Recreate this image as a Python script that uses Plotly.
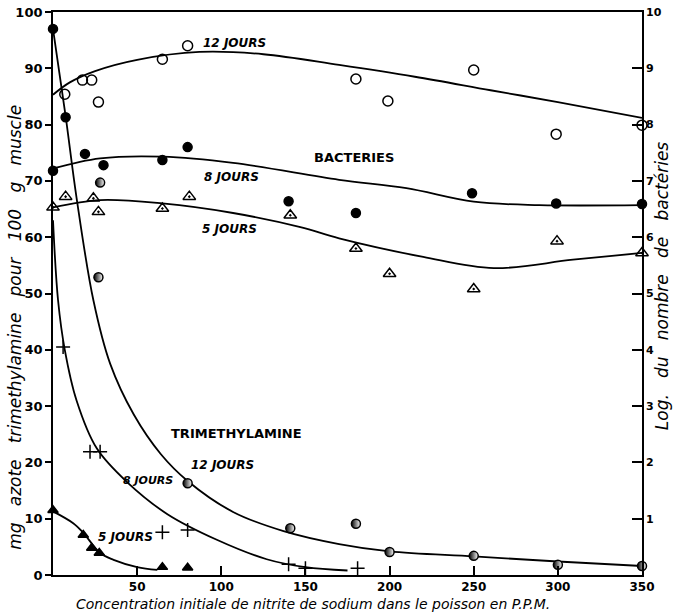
import plotly.graph_objects as go

# ---------------- data ----------------
# Bacteria (log number of bacteria, right axis)
b12_curve_x = [0, 10, 25, 50, 87, 125, 170, 215, 260, 300, 350]
b12_curve_y = [8.53, 8.75, 8.95, 9.15, 9.29, 9.25, 9.06, 8.85, 8.61, 8.40, 8.12]
b12_pts_x = [7, 17.5, 23, 27, 65, 80, 180, 199, 250, 299, 350]
b12_pts_y = [8.54, 8.79, 8.79, 8.40, 9.16, 9.40, 8.81, 8.42, 8.97, 7.83, 7.99]

b8_curve_x = [0, 28, 65, 107, 170, 210, 250, 289, 350]
b8_curve_y = [7.22, 7.40, 7.43, 7.32, 7.02, 6.87, 6.63, 6.57, 6.57]
b8_pts_x = [0, 19, 30, 65, 80, 140, 180, 249, 299, 350]
b8_pts_y = [7.18, 7.48, 7.28, 7.37, 7.60, 6.64, 6.43, 6.78, 6.60, 6.59]
b8_half_x = [28, 27]
b8_half_y = [6.97, 5.29]

b5_curve_x = [0, 28, 65, 107, 147, 170, 220, 262, 309, 350]
b5_curve_y = [6.53, 6.66, 6.60, 6.43, 6.18, 5.98, 5.65, 5.45, 5.60, 5.72]
b5_pts_x = [0, 7.5, 24, 27, 65, 81, 141, 180, 200, 250, 299.5, 350]
b5_pts_y = [6.53, 6.72, 6.69, 6.45, 6.51, 6.72, 6.39, 5.80, 5.35, 5.08, 5.93, 5.72]

# Trimethylamine (mg N / 100 g muscle, left axis)
t12_curve_x = [0, 7.5, 14, 24, 34, 48, 64, 80, 107, 137, 170, 200, 250, 300, 350]
t12_curve_y = [97, 81.5, 67, 48.8, 37.5, 28.5, 21.5, 16.7, 11.2, 7.8, 5.5, 4.2, 3.3, 2.4, 1.6]
t12_full_x = [0, 7.5]
t12_full_y = [97, 81.3]
t12_half_x = [80, 141, 180, 200, 250, 300, 350]
t12_half_y = [16.3, 8.3, 9.1, 4.1, 3.4, 1.8, 1.6]

t8_curve_x = [0, 3, 7, 14, 26, 44, 68, 97, 127, 150, 175]
t8_curve_y = [63, 48.8, 40, 31, 22.5, 16.5, 10.8, 6.3, 2.8, 1.4, 0.8]
t8_pts_x = [6, 22, 28, 65, 80, 140, 150, 181]
t8_pts_y = [40.5, 21.9, 21.9, 7.6, 8.0, 1.9, 1.2, 1.2]

t5_curve_x = [0, 12, 18, 28, 36, 50, 62]
t5_curve_y = [11.3, 9.2, 7.5, 3.9, 2.7, 1.4, 0.9]
t5_pts_x = [0, 18, 23, 27.5, 65, 80]
t5_pts_y = [11.5, 7.1, 4.8, 3.9, 1.4, 1.3]

x_ticks = [50, 100, 150, 200, 250, 300, 350]
left_ticks = [0, 10, 20, 30, 40, 50, 60, 70, 80, 90, 100]
right_ticks = [1, 2, 3, 4, 5, 6, 7, 8, 9, 10]

# ---------------- figure ----------------
BLK = "black"
fig = go.Figure()

def curve(x, y, axis):
    fig.add_trace(go.Scatter(x=x, y=y, mode="lines", yaxis=axis,
                             line=dict(color=BLK, width=1.8, shape="spline", smoothing=1.0),
                             hoverinfo="skip", cliponaxis=False))

def pts(x, y, axis, symbol, size=9, color=BLK, gradient=None, lw=1.5):
    m = dict(symbol=symbol, size=size, color=color, line=dict(color=BLK, width=lw))
    if gradient:
        m["gradient"] = gradient
    fig.add_trace(go.Scatter(x=x, y=y, mode="markers", yaxis=axis, marker=m,
                             cliponaxis=False))

# bacteria curves
curve(b12_curve_x, b12_curve_y, "y2")
curve(b8_curve_x, b8_curve_y, "y2")
curve(b5_curve_x, b5_curve_y, "y2")
pts(b12_pts_x, b12_pts_y, "y2", "circle-open", 10)
pts(b8_pts_x, b8_pts_y, "y2", "circle", 9)
pts(b8_half_x, b8_half_y, "y2", "circle", 9, color=BLK,
    gradient=dict(type="horizontal", color="white"))
pts(b5_pts_x, b5_pts_y, "y2", "triangle-up-open-dot", 11)

# TMA curves
curve(t12_curve_x, t12_curve_y, "y")
curve(t8_curve_x, t8_curve_y, "y")
curve(t5_curve_x, t5_curve_y, "y")
pts(t12_full_x, t12_full_y, "y", "circle", 9)
pts(t12_half_x, t12_half_y, "y", "circle", 9, color=BLK,
    gradient=dict(type="horizontal", color="white"))
pts(t8_pts_x, t8_pts_y, "y", "cross-thin-open", 10)
pts(t5_pts_x, t5_pts_y, "y", "triangle-up", 9)

FONT = "DejaVu Sans"
tick_font = dict(family=FONT, size=12, color=BLK, weight="bold")

def lab(text, x, y, size=12, italic=True, bold=True):
    fig.add_annotation(text=text, x=x, y=y, xref="x", yref="y", showarrow=False,
                       xanchor="center", yanchor="middle",
                       font=dict(family=FONT, size=size, color=BLK,
                                 style="italic" if italic else "normal",
                                 weight="bold" if bold else "normal"))

lab("12 JOURS", 108, 94.5)
lab("BACTERIES", 179, 74.2, size=13, italic=False)
lab("8 JOURS", 106, 70.7)
lab("5 JOURS", 105, 61.5)
lab("TRIMETHYLAMINE", 109, 25.2, size=13, italic=False)
lab("12 JOURS", 101, 19.5)
lab("8 JOURS", 56.4, 16.7, size=11)
lab("5 JOURS", 42.8, 6.7)

SP = "\u00a0\u00a0\u00a0"
fig.add_annotation(text=SP.join("mg azote trimethylamine pour 100 g muscle".split(" ")),
                   x=-0.0645, y=0.439, xref="paper", yref="paper", showarrow=False,
                   xanchor="center", yanchor="middle", textangle=-90,
                   font=dict(family=FONT, size=17, color=BLK, style="italic"))
fig.add_annotation(text=SP.join("Log. du nombre de bactéries".split(" ")),
                   x=1.034, y=0.513, xref="paper", yref="paper", showarrow=False,
                   xanchor="center", yanchor="middle", textangle=-90,
                   font=dict(family=FONT, size=17, color=BLK, style="italic"))
fig.add_annotation(text="Concentration initiale de nitrite de sodium dans le poisson en P.P.M.",
                   x=0.441, y=-0.051, xref="paper", yref="paper", showarrow=False,
                   xanchor="center", yanchor="middle",
                   font=dict(family=FONT, size=14, color=BLK, style="italic"))

fig.update_layout(
    width=680, height=614,
    margin=dict(l=53, r=38, t=12, b=39, autoexpand=False),
    paper_bgcolor="white", plot_bgcolor="white",
    showlegend=False,
    xaxis=dict(range=[0, 350], tickvals=x_ticks, ticktext=[str(v) for v in x_ticks],
               ticks="inside", ticklen=9, tickwidth=1.5, tickcolor=BLK,
               showline=True, linecolor=BLK, linewidth=1.8, mirror=True,
               ticklabelstandoff=0,
               showgrid=False, zeroline=False, tickfont=tick_font, automargin=False),
    yaxis=dict(range=[0, 100], tickvals=left_ticks, ticktext=[str(v) for v in left_ticks],
               ticks="outside", ticklen=6, tickwidth=1.5, tickcolor=BLK,
               showline=True, linecolor=BLK, linewidth=1.8, automargin=False,
               showgrid=False, zeroline=False,
               tickfont=dict(family=FONT, size=13, color=BLK, weight="bold")),
    yaxis2=dict(range=[0, 10], overlaying="y", side="right",
                tickvals=right_ticks, ticktext=[str(v) for v in right_ticks],
                ticks="inside", ticklen=10, tickwidth=1.5, tickcolor=BLK,
                showline=True, linecolor=BLK, linewidth=1.8, automargin=False,
                showgrid=False, zeroline=False,
                tickfont=dict(family=FONT, size=11, color=BLK, weight="bold")),
)

fig.write_html("out.html", config={"displayModeBar": False},
               post_script="document.body.style.margin='0';")
